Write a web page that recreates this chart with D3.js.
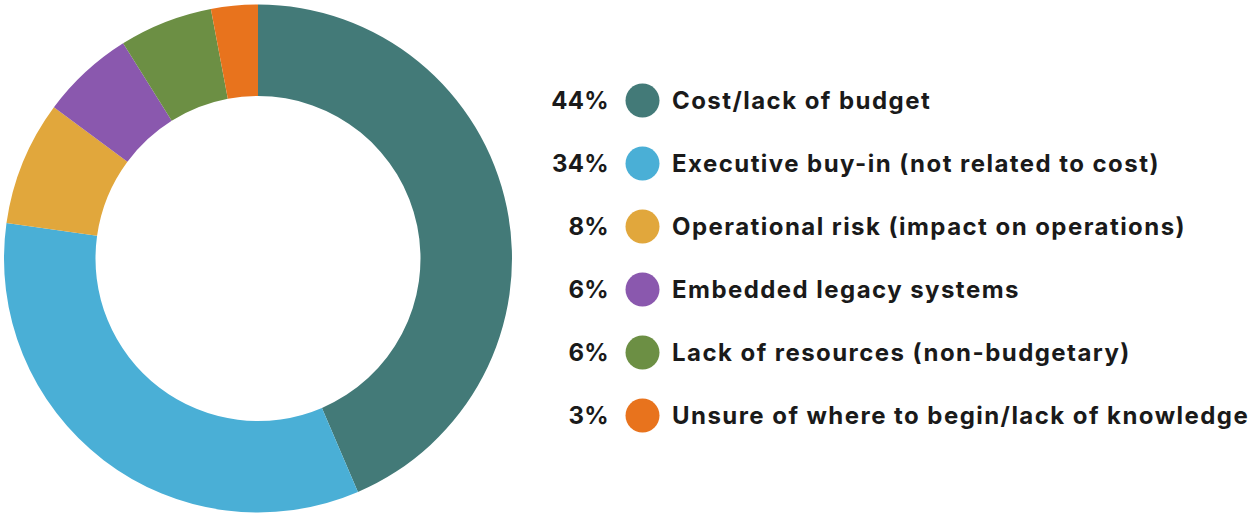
<!DOCTYPE html>
<html>
<head>
<meta charset="utf-8">
<script src="https://cdn.jsdelivr.net/npm/d3@7"></script>
<style>
  html, body { margin: 0; padding: 0; background: #ffffff; }
  svg { display: block; }
  text { font-family: "Inter", "Lato", sans-serif; font-weight: 700; fill: #1a1a1a; }
</style>
</head>
<body>
<svg id="chart" width="1252" height="514"></svg>
<script>
// Barriers and their share of responses (percent)
const categories = [
  "Cost/lack of budget",
  "Executive buy-in (not related to cost)",
  "Operational risk (impact on operations)",
  "Embedded legacy systems",
  "Lack of resources (non-budgetary)",
  "Unsure of where to begin/lack of knowledge"
];
const values = [44, 34, 8, 6, 6, 3];
const colors = ["#437a78", "#4aafd6", "#e1a73c", "#8a58ae", "#6c8f44", "#e8731d"];

const svg = d3.select("#chart");

// Donut, starting at 12 o'clock and running clockwise
const cx = 258, cy = 258.5, outerR = 254, innerR = 162.5;
const pie = d3.pie().sort(null).value(d => d);
const arc = d3.arc().innerRadius(innerR).outerRadius(outerR);

svg.append("g")
  .attr("transform", `translate(${cx},${cy})`)
  .selectAll("path")
  .data(pie(values))
  .join("path")
  .attr("d", arc)
  .attr("fill", (d, i) => colors[i]);

// Legend: percentage, colour dot, label
const rowY = d3.scalePoint().domain(d3.range(categories.length)).range([100.5, 415.5]);
const fmt = d => d + "%";

const rows = svg.append("g")
  .selectAll("g")
  .data(categories)
  .join("g")
  .attr("transform", (d, i) => `translate(0,${rowY(i)})`);

rows.append("text")
  .attr("x", 609)
  .attr("y", 0)
  .attr("dy", "0.35em")
  .attr("text-anchor", "end")
  .attr("font-size", 24)
  .attr("letter-spacing", 0.3)
  .text((d, i) => fmt(values[i]));

rows.append("circle")
  .attr("cx", 642.5)
  .attr("cy", 0)
  .attr("r", 17)
  .attr("fill", (d, i) => colors[i]);

rows.append("text")
  .attr("x", 672)
  .attr("y", 0)
  .attr("dy", "0.35em")
  .attr("font-size", 24)
  .attr("letter-spacing", 1.45)
  .text(d => d);
</script>
</body>
</html>
